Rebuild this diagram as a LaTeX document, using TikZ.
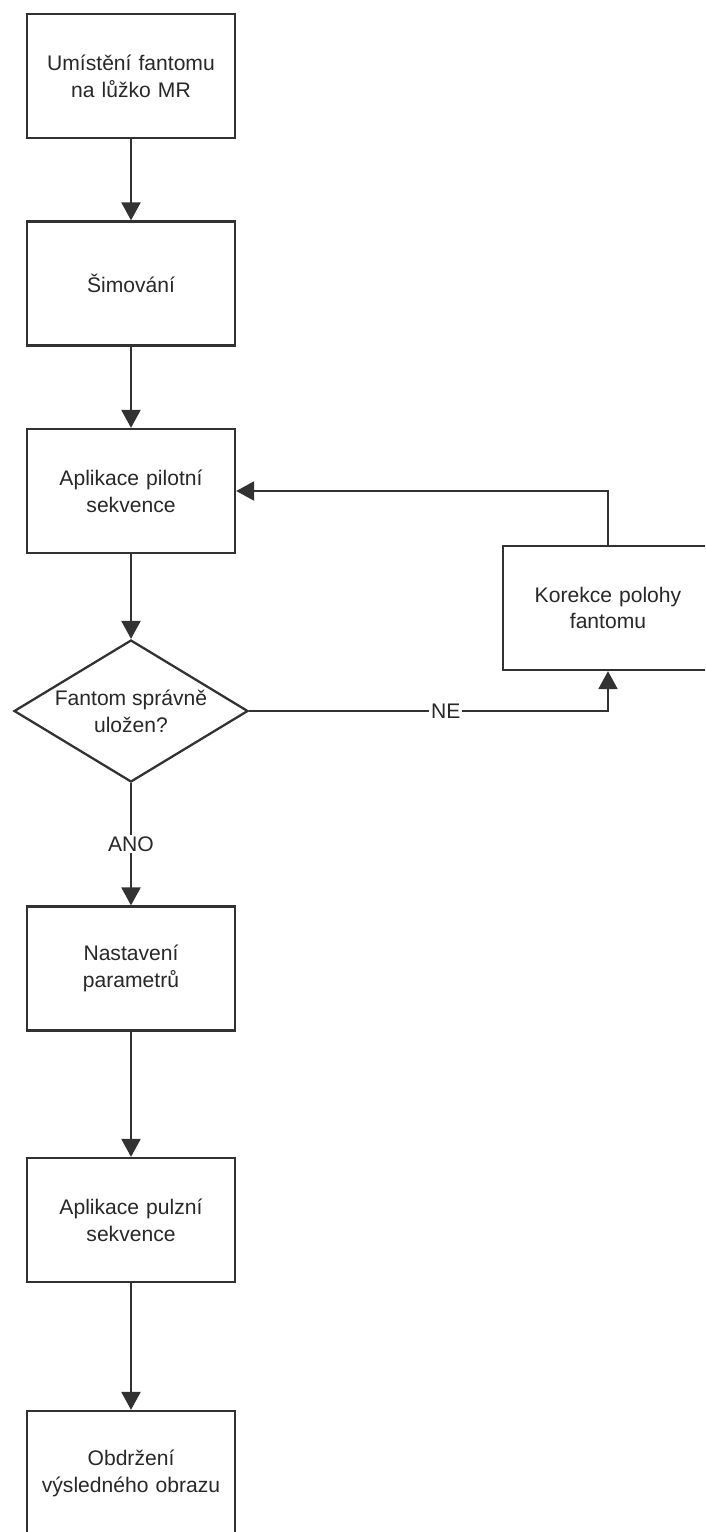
\documentclass[tikz,border=0pt]{standalone}
\usepackage{fontspec}
\setmainfont{Liberation Sans}
\usetikzlibrary{positioning,shapes.geometric,arrows.meta}

\definecolor{carcol}{RGB}{50,50,50}
\definecolor{textcol}{RGB}{40,40,40}

\begin{document}
\begin{tikzpicture}[inner sep=0.4mm,
  krok/.style={draw=carcol, line width=1.3pt, fill=white, minimum width=4.16cm,
    minimum height=2.48cm, text width=3.95cm, align=center, text=textcol,
    font=\fontsize{12}{15.3}\selectfont},
  otazka/.style={draw=carcol, line width=1.3pt, fill=white, shape=diamond,
    minimum width=4.68cm, minimum height=2.84cm, inner sep=0pt},
  otazkatext/.style={align=center, text=textcol, font=\fontsize{12}{15.3}\selectfont},
  sipka/.style={draw=carcol, line width=1.3pt, -{Triangle[width=0.38cm,length=0.36cm]}},
  popis/.style={fill=white, text=textcol, inner sep=1pt, font=\fontsize{12}{14}\selectfont}
]

\clip (0,0) rectangle (14.1,-30.64);

\coordinate (P1) at (2.62,-1.52);
\coordinate (P2) at (2.62,-5.67);
\coordinate (P3) at (2.62,-9.82);
\coordinate (Q) at (2.62,-14.22);
\coordinate (P4) at (2.62,-19.37);
\coordinate (P5) at (2.62,-24.40);
\coordinate (P6) at (2.62,-29.46);
\coordinate (K) at (12.16,-12.16);

\node (umisteni) at (P1) [krok] {Umístění fantomu\\na lůžko MR};
\node (simovani) at (P2) [krok] {Šimování};
\node (pilot) at (P3) [krok] {Aplikace pilotní\\sekvence};
\node (uloz) at (Q) [otazka, label={[otazkatext]center:Fantom správně\\uložen?}] {};
\node (param) at (P4) [krok] {Nastavení\\parametrů};
\node (pulz) at (P5) [krok] {Aplikace pulzní\\sekvence};
\node (obraz) at (P6) [krok] {Obdržení\\výsledného obrazu};
\node (korekce) at (K) [krok, minimum width=4.2cm] {Korekce polohy\\fantomu};

\draw[sipka] (umisteni) to (simovani);
\draw[sipka] (simovani) to (pilot);
\draw[sipka] (pilot) to (uloz);
\draw[sipka] (uloz) to node[popis] {ANO} (param);
\draw[sipka] (param) to (pulz);
\draw[sipka] (pulz) to (obraz);
\draw[sipka] (uloz.east) -| node[popis, pos=0.274] {NE} (korekce.south);
\draw[sipka] (korekce.north) |- (pilot.east);

\end{tikzpicture}
\end{document}
